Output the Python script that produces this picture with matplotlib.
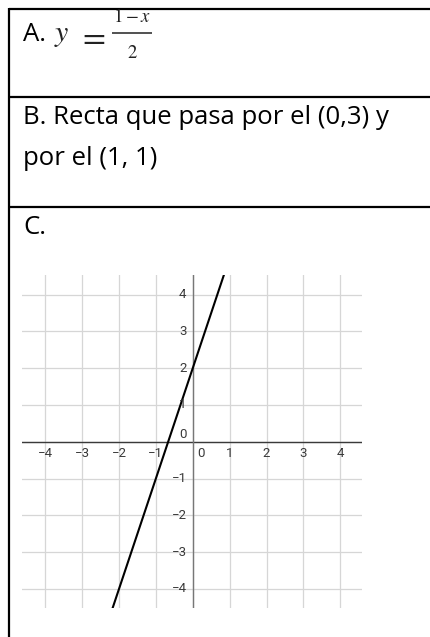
import matplotlib.pyplot as plt

# --- datos ---
row_labels = ['A.', 'B. Recta que pasa por el (0,3) y', 'por el (1, 1)', 'C.']
formula_lhs = r'$y$'
formula_eq = r'$=$'
formula_num = r'$1-x$'
formula_den = r'$2$'

ticks = [-4, -3, -2, -1, 0, 1, 2, 3, 4]
x_limits = [-4.63, 4.58]
y_limits = [-4.51, 4.53]

# recta dibujada en C
line_x = [-2.2, 0.85]
line_y = [-4.6, 4.55]

W, H = 430, 637
fig = plt.figure(figsize=(W / 100, H / 100), dpi=100)

# --- tabla (coordenadas en píxeles) ---
bg = fig.add_axes([0, 0, 1, 1])
bg.set_xlim(0, W)
bg.set_ylim(H, 0)
bg.axis('off')

text_font = ['Open Sans', 'DejaVu Sans']
fs = 18.5
math_col = '#222222'

bg.text(23, 41, row_labels[0], fontsize=fs, family=text_font, va='baseline', ha='left')
# fórmula de A, por piezas
bg.text(54, 41, formula_lhs, fontsize=21.5, va='baseline', ha='left', color=math_col,
        math_fontfamily='stix')
bg.text(92.5, 37, formula_eq, fontsize=24, va='center', ha='center', color=math_col,
        math_fontfamily='stix')
bg.text(132, 17, formula_num, fontsize=13.5, va='center', ha='center', color=math_col,
        math_fontfamily='stix')
bg.plot([112, 152], [33, 33], color=math_col, lw=1.1, solid_capstyle='butt')
bg.text(132, 52.5, formula_den, fontsize=13.5, va='center', ha='center', color=math_col,
        math_fontfamily='stix')

bg.text(23, 124.5, row_labels[1], fontsize=fs, family=text_font, va='baseline', ha='left')
bg.text(23, 165, row_labels[2], fontsize=fs, family=text_font, va='baseline', ha='left')
bg.text(23, 234, row_labels[3], fontsize=fs, family=text_font, va='baseline', ha='left')

# bordes de la tabla
for yb in [9, 97, 207]:
    bg.plot([9, W], [yb, yb], color='black', lw=1.6, solid_capstyle='butt')
bg.plot([9, 9], [8.2, H], color='black', lw=1.6, solid_capstyle='butt')

# --- gráfico C ---
ax = fig.add_axes([22 / W, 1 - 607.7 / H, 339.7 / W, 332.7 / H])
ax.set_xlim(x_limits)
ax.set_ylim(y_limits)
ax.set_xticks(ticks)
ax.set_yticks(ticks)
ax.tick_params(length=0, labelbottom=False, labelleft=False)
ax.grid(True, color='#d6d6d6', lw=0.9)
for s in ax.spines.values():
    s.set_visible(False)
ax.set_facecolor('none')

ax.axhline(0, color='#3a3a3a', lw=1.0)
ax.axvline(0, color='#777777', lw=1.0)

lab_font = ['Roboto', 'DejaVu Sans']
lab_fs = 9.5
for t in ticks:
    if t == 0:
        continue
    ax.annotate(f'{t}'.replace('-', '\u2212'), (t, 0), xytext=(0, -8.5), textcoords='offset points',
                ha='center', va='center', fontsize=lab_fs, color='#3a3a3a', family=lab_font)
    ax.annotate(f'{t}'.replace('-', '\u2212'), (0, t), xytext=(-4.5, 0), textcoords='offset points',
                ha='right', va='center', fontsize=lab_fs, color='#3a3a3a', family=lab_font)
ax.annotate('0', (0, 0), xytext=(3, -8.5), textcoords='offset points',
            ha='left', va='center', fontsize=lab_fs, color='#3a3a3a', family=lab_font)
ax.annotate('0', (0, 0), xytext=(-4.5, 5), textcoords='offset points',
            ha='right', va='center', fontsize=lab_fs, color='#3a3a3a', family=lab_font)

ax.plot(line_x, line_y, color='black', lw=1.5)

fig.savefig('out.png', dpi=100)
